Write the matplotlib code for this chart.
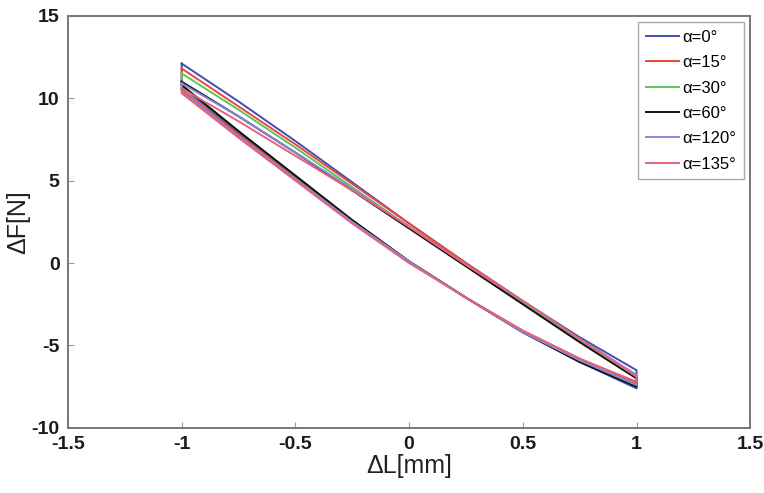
import matplotlib.pyplot as plt
import numpy as np

plt.rcParams['font.family'] = ['Liberation Sans', 'DejaVu Sans']
plt.rcParams['axes.unicode_minus'] = False

# displacement grid shared by all loops
dL = [-1, -0.75, -0.5, -0.25, 0, 0.25, 0.5, 0.75, 1]

labels = ['α=0°', 'α=15°', 'α=30°', 'α=60°', 'α=120°', 'α=135°']
colors = ['#3f4fb4', '#e8483c', '#5cc45c', '#111111', '#8a86d8', '#e8607a']

# upper branch (loading) and lower branch (unloading) of each loop
upper_0 = [12.1, 9.8, 7.4, 4.9, 2.4, 0.0, -2.3, -4.5, -6.5]
lower_0 = [10.7, 7.9, 5.3, 2.6, 0.1, -2.1, -4.2, -6.0, -7.6]
upper_15 = [11.8, 9.5, 7.2, 4.8, 2.4, 0.0, -2.3, -4.6, -6.8]
lower_15 = [10.5, 7.8, 5.2, 2.6, 0.1, -2.1, -4.1, -5.8, -7.3]
upper_30 = [11.5, 9.3, 7.0, 4.6, 2.2, -0.1, -2.4, -4.7, -6.9]
lower_30 = [10.8, 8.0, 5.3, 2.6, 0.1, -2.1, -4.2, -5.9, -7.4]
upper_60 = [11.0, 8.9, 6.7, 4.4, 2.1, -0.2, -2.5, -4.8, -7.0]
lower_60 = [10.8, 8.0, 5.3, 2.6, 0.1, -2.1, -4.2, -6.0, -7.5]
upper_120 = [10.9, 8.9, 6.7, 4.5, 2.2, -0.1, -2.3, -4.6, -6.8]
lower_120 = [10.4, 7.7, 5.1, 2.5, 0.1, -2.1, -4.2, -5.9, -7.4]
upper_135 = [10.6, 8.6, 6.5, 4.4, 2.2, -0.1, -2.3, -4.6, -6.9]
lower_135 = [10.3, 7.6, 5.0, 2.4, 0.0, -2.1, -4.1, -5.8, -7.2]

uppers = [upper_0, upper_15, upper_30, upper_60, upper_120, upper_135]
lowers = [lower_0, lower_15, lower_30, lower_60, lower_120, lower_135]

fig = plt.figure(figsize=(7.64, 4.93), dpi=100)
ax = fig.add_axes([0.089, 0.132, 0.893, 0.836])

for up, lo, c, lab in zip(uppers, lowers, colors, labels):
    x = np.concatenate([dL, dL[::-1], dL[:1]])
    y = np.concatenate([up, lo[::-1], up[:1]])
    ax.plot(x, y, color=c, lw=1.4, label=lab)

ax.set_xlim(-1.5, 1.5)
ax.set_ylim(-10, 15)
ax.set_xticks([-1.5, -1, -0.5, 0, 0.5, 1, 1.5])
ax.set_xticklabels(['-1.5', '-1', '-0.5', '0', '0.5', '1', '1.5'])
ax.set_yticks([-10, -5, 0, 5, 10, 15])
ax.tick_params(direction='in', length=4, color='#999999', labelsize=14,
               labelcolor='#1a1a1a')
ax.tick_params(axis='x', pad=6)
ax.tick_params(axis='y', pad=6)
for t in ax.get_xticklabels() + ax.get_yticklabels():
    t.set_fontweight('bold')
for s in ax.spines.values():
    s.set_color('#777777')
    s.set_linewidth(1.4)

ax.set_xlabel('ΔL[mm]', fontsize=18, color='#222222')
ax.set_ylabel('ΔF[N]', fontsize=18, color='#222222')
ax.xaxis.set_label_coords(0.5, -0.063)
ax.yaxis.set_label_coords(-0.056, 0.5)

leg = ax.legend(loc='upper right', fontsize=12, handlelength=2.0, handletextpad=0.2,
                labelspacing=0.62, borderpad=0.45, borderaxespad=0.4,
                fancybox=False, framealpha=1)
leg.get_frame().set_edgecolor('#aaaaaa')

fig.savefig('out.png')
